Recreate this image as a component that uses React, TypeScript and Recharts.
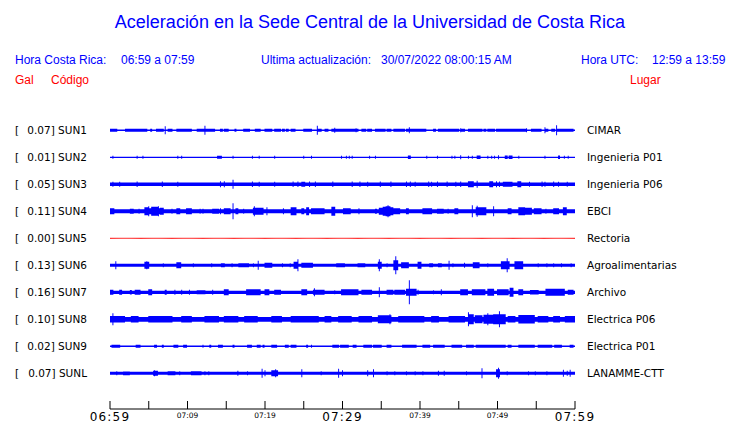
import React from "react";
import { ComposedChart, Area, Line, XAxis, YAxis } from "recharts";

type Burst = [number, number, number];
type Spike = [number, number];

const CODES = ["SUN1", "SUN2", "SUN3", "SUN4", "SUN5", "SUN6", "SUN7", "SUN8", "SUN9", "SUNL"];
const GAL = ["0.07", "0.01", "0.05", "0.11", "0.00", "0.13", "0.16", "0.10", "0.02", "0.07"];
const PLACES = [
  "CIMAR", "Ingenieria P01", "Ingenieria P06", "EBCI", "Rectoria",
  "Agroalimentarias", "Archivo", "Electrica P06", "Electrica P01", "LANAMME-CTT",
];
const BASES = [0.7, 0.6, 1.7, 2, 0, 1.5, 1.6, 2.4, 0.7, 1.5];

const TIME_TICKS = [0, 5, 10, 15, 20, 25, 30, 35, 40, 45, 50, 55, 60];
const LABEL_MINUTES = [0, 10, 20, 30, 40, 50, 60];
const LABEL_TEXTS = ["06:59", "07:09", "07:19", "07:29", "07:39", "07:49", "07:59"];
const MAJOR_MINUTES = [0, 30, 60];

const SUN1_BURSTS: Burst[] = [
  [0, 0.3, 1.5], [0.4, 0.9, 1.5], [2, 4.8, 1.5], [5.2, 5.4, 1.5], [6, 6.9, 1.5], [7.5, 8, 1.5],
  [8.6, 10.5, 1.5], [11.2, 13.5, 1.5], [14.2, 14.6, 1.5], [14.8, 15.3, 1.5], [16.1, 16.3, 1.5],
  [17.2, 18.1, 1.5], [18.7, 19.4, 1.5], [20, 20.9, 1.5], [21.3, 22, 1.5], [22.2, 22.6, 1.5],
  [22.8, 23, 1.5], [23.4, 23.9, 1.5], [25, 26, 1.5], [26.9, 27.3, 1.5], [27.7, 28.2, 1.5],
  [28.6, 32, 1.5], [32.5, 33.1, 1.5], [33.3, 33.8, 1.5], [34.2, 35.5, 1.5], [35.7, 36.3, 1.5],
  [36.6, 38.1, 1.5], [38.3, 40.8, 1.5], [41.7, 42, 1.5], [42.4, 45, 1.5], [45.2, 45.8, 1.5],
  [46.2, 48, 1.5], [48.2, 48.6, 1.5], [48.8, 49.7, 1.5], [49.9, 53.8, 1.5], [54.4, 55.7, 1.5],
  [56.3, 56.5, 1.5], [57, 57.4, 1.5], [57.8, 59.8, 1.5],
];
const SUN1_SPIKES: Spike[] = [
  [7.1, 4], [12.3, 4.5], [26.8, 4.5], [29, 2.5], [31.8, 2], [38.6, 3], [45.3, 2], [53.8, 2],
  [56.1, 3], [57.6, 5],
];

const SUN2_BURSTS: Burst[] = [
  [13.9, 14.4, 1.5], [38.5, 38.8, 1.8], [47.4, 47.8, 1.8], [51, 51.3, 1.8], [51.5, 51.9, 1.8],
  [57.9, 58.1, 1.8],
];
const SUN2_SPIKES: Spike[] = [
  [0.4, 1.5], [3.5, 1.5], [4.2, 1.5], [8.8, 1.5], [9.3, 1.5], [15.9, 1.5], [18.4, 1.5], [19.3, 1.5],
  [21.2, 1.5], [25, 1.5], [26, 1.5], [29.9, 1.5], [30.5, 1.5], [30.9, 1.5], [31.3, 1.5], [33.5, 1.5],
  [34.3, 1.5], [40.9, 1.5], [42.2, 1.5], [44.1, 1.5], [44.5, 1.5], [45.2, 2], [46.2, 1.5],
  [46.7, 1.5], [48.8, 1.5], [49.2, 1.5], [49.6, 1.5], [50.1, 2], [52.7, 1.5], [56.1, 1.5],
  [58.6, 1.5], [59.1, 1.5],
];

const SUN3_BURSTS: Burst[] = [
  [24.7, 25.2, 2.5], [46.2, 46.9, 3], [49, 49.4, 3], [50.8, 51.9, 2.5], [52.6, 53.1, 3],
];
const SUN3_SPIKES: Spike[] = [
  [0.4, 2.5], [1.3, 2.5], [3.5, 2.8], [6.8, 2.8], [8.7, 2.5], [14.2, 3], [14.8, 3], [15.9, 4.5],
  [18.4, 2.8], [19.3, 2.5], [21.2, 2.5], [23.6, 2.8], [24.2, 2.8], [25.7, 2.8], [26.5, 2.8],
  [28.7, 2.8], [31.2, 2.8], [32.2, 2.8], [33.3, 2.5], [34.9, 2.8], [36.2, 2.8], [38.3, 2.8],
  [38.8, 2.8], [39.4, 2.5], [41.1, 2.8], [41.5, 2.5], [42.2, 2.8], [43.5, 2.8], [44.6, 2.5],
  [45.2, 2.8], [47.4, 3.5], [49.9, 3], [50.3, 2.8], [54.1, 2.5], [55.7, 2.8], [56.1, 2.5],
  [57.2, 2.8], [57.9, 2.5], [59, 2.5],
];

const SUN4_BURSTS: Burst[] = [
  [0, 0.6, 3], [2.6, 3, 2.5], [4.5, 5, 4], [5, 5.4, 3], [5.4, 6.2, 4.5], [6.2, 6.5, 3],
  [6.5, 6.9, 3.5], [8.6, 9, 3], [9.9, 10.5, 3], [13.3, 14, 2.5], [14.8, 15.5, 3], [16.3, 16.6, 3],
  [18.5, 19.8, 3.5], [23.4, 24.1, 4], [24.7, 25.1, 3], [25.4, 25.7, 4], [26, 27.7, 3],
  [28.6, 29, 4.5], [30.1, 31, 3], [34.2, 34.4, 2.5], [34.8, 35.3, 3.5], [35.3, 35.6, 4.5],
  [35.6, 36.2, 5], [36.2, 36.6, 4], [36.6, 37.4, 3], [38.3, 38.5, 3], [40.4, 41.5, 3],
  [42.2, 43, 2.5], [44.5, 44.9, 3], [47.3, 48.6, 4], [51.4, 51.8, 3], [52.7, 53.5, 4],
  [53.5, 54.4, 3.5], [54.8, 55.7, 3], [57.2, 57.9, 3], [58.5, 58.9, 4],
];
const SUN4_SPIKES: Spike[] = [
  [3.7, 2.5], [5, 5], [6.2, 5], [8, 2.5], [11.6, 2.5], [12, 2.5], [14.2, 3], [15.9, 8], [17.2, 2.5],
  [18.6, 5], [20.3, 4], [22.4, 3], [32.1, 3], [35.9, 6], [43.6, 2.5], [46.7, 6], [47.4, 5.5],
  [49.5, 5], [56.3, 2.5],
];

const SUN5_BURSTS: Burst[] = [];
const SUN5_SPIKES: Spike[] = [];

const SUN6_BURSTS: Burst[] = [
  [4.5, 5, 3.5], [8.6, 9.2, 3], [14.4, 14.8, 2], [16.6, 17.9, 2], [20, 20.9, 2.5], [23.7, 24.3, 3.5],
  [24.7, 26.2, 2.5], [29.2, 30.3, 2], [32, 32.9, 2], [34.6, 35.1, 3.5], [36.6, 37.2, 5],
  [37.6, 38.5, 3], [39.8, 40.2, 3.5], [41.3, 41.7, 2], [42.4, 42.8, 2], [46.9, 47.7, 3],
  [50.5, 51.6, 4], [52.3, 53.3, 4],
];
const SUN6_SPIKES: Spike[] = [
  [0.7, 4], [4.7, 4], [6.9, 2], [10.8, 2], [13.1, 2], [15.7, 2], [18.5, 2], [19.1, 4.5], [22.2, 2],
  [23.2, 2], [24.2, 6], [34.8, 6], [35.7, 2], [36.9, 9], [43.7, 4.5], [44.3, 2], [45.7, 2.5],
  [48.8, 2], [51.2, 7], [55.3, 2], [56.4, 2], [57.2, 2], [58.3, 2], [59.5, 2],
];

const SUN7_BURSTS: Burst[] = [
  [0, 0.4, 2.5], [1.3, 1.5, 2.5], [2.6, 2.8, 2.2], [3.2, 3.9, 2.5], [5, 5.4, 3], [7.1, 7.3, 2.5],
  [11.2, 12.3, 2], [14.8, 15.3, 3], [17.6, 19.4, 3], [20, 20.6, 3], [21.3, 22, 2.5],
  [24.7, 25.4, 3], [26.2, 27.7, 2.5], [29.9, 32, 3], [32.5, 33.8, 2.5], [35.7, 36.6, 2.5],
  [36.8, 38.1, 2.5], [38.3, 39.6, 3.5], [45.2, 46.2, 3], [46.7, 48.4, 3], [48.8, 49.5, 3.5],
  [50, 51.4, 3], [51.6, 52, 4.5], [52.7, 53.3, 3], [54.2, 55.3, 2.2], [56.3, 58.7, 3.5],
  [59.1, 59.8, 2.5],
];
const SUN7_SPIKES: Spike[] = [
  [8.4, 2.5], [9.3, 2.5], [10.3, 2.5], [13.3, 2.5], [26.4, 4], [29, 2], [34.8, 5], [38.6, 12],
  [39.8, 2.5], [41.7, 2], [42.8, 3],
];

const SUN8_BURSTS: Burst[] = [
  [0, 1.9, 3.2], [2.8, 3.7, 3.2], [5, 8, 3.2], [9.3, 10.5, 3.2], [12.3, 14, 3.2], [14.8, 16.6, 3.2],
  [17.4, 19.1, 3.2], [20.9, 22.2, 3.2], [23.4, 26.9, 3.2], [27.7, 28.6, 3.2], [29.5, 31.2, 3.2],
  [32.1, 33.8, 3.2], [34.6, 36.3, 4], [37.2, 40.6, 3.2], [41.5, 42.4, 3.2], [43.7, 45.8, 3.2],
  [46.3, 46.9, 5], [47.1, 48, 4], [48.2, 49.5, 4.5], [49.5, 51, 5], [51.4, 52.3, 3.2],
  [52.7, 54.8, 4.2], [55.3, 56.6, 3.2], [57.2, 58, 3.2], [58.8, 60, 3.2],
];
const SUN8_SPIKES: Spike[] = [
  [0.4, 6], [36.1, 5], [46.3, 7], [48.8, 6], [50.2, 8],
];

const SUN9_BURSTS: Burst[] = [
  [0.2, 1.3, 1.5], [3.4, 3.9, 1.5], [5.8, 6, 1.5], [6.7, 6.9, 1.5], [8.2, 8.8, 1.5], [9.5, 9.9, 1.5],
  [12, 12.1, 1.5], [12.9, 13.1, 1.5], [14, 14.6, 1.5], [15.9, 16, 1.5], [17.8, 18.3, 1.5],
  [19, 19.4, 1.5], [19.8, 19.9, 1.5], [20.9, 21.5, 1.5], [22.6, 23, 1.5], [23.4, 24.1, 1.5],
  [25.4, 25.5, 1.5], [26, 26.1, 1.5], [28.8, 29.5, 1.5], [29.7, 30.8, 1.5], [31.4, 31.8, 1.5],
  [32.7, 33.8, 1.5], [34, 35.1, 1.5], [35.7, 36.3, 1.5], [37.8, 39.6, 1.5], [40.4, 41.3, 1.5],
  [41.7, 43.2, 1.5], [44.1, 45.4, 1.5], [46, 46.9, 1.5], [47.3, 51, 1.5], [51.4, 51.8, 1.5],
  [52.7, 54.8, 1.5], [55.3, 57, 1.5], [57.4, 58.3, 1.5], [59.4, 59.8, 1.5],
];
const SUN9_SPIKES: Spike[] = [];

const SUNL_BURSTS: Burst[] = [
  [1.7, 2.6, 1.9], [5.6, 6.2, 2.5], [7.5, 8.4, 2], [10.5, 11.8, 2], [20.9, 21.7, 3], [49.9, 50.3, 4],
];
const SUNL_SPIKES: Spike[] = [
  [0.9, 2], [5.8, 3], [9, 2], [12.3, 2], [12.7, 2], [16.5, 2.5], [17.8, 2], [19.6, 4.5], [20, 3],
  [21.4, 4], [24.7, 4], [27.3, 2], [29.5, 4.5], [30, 3], [33.3, 3], [34, 4], [35.7, 2], [36.8, 2],
  [38.3, 2], [39.4, 2], [40.4, 2], [42.4, 2.5], [43.1, 2.5], [46, 2], [48, 5], [50.1, 5.5],
  [51.2, 2], [54, 2], [54.9, 2], [56.4, 2], [58.5, 3.5], [59, 2.5], [59.4, 3.5],
];

const ALL_BURSTS = [SUN1_BURSTS, SUN2_BURSTS, SUN3_BURSTS, SUN4_BURSTS, SUN5_BURSTS,
  SUN6_BURSTS, SUN7_BURSTS, SUN8_BURSTS, SUN9_BURSTS, SUNL_BURSTS];
const ALL_SPIKES = [SUN1_SPIKES, SUN2_SPIKES, SUN3_SPIKES, SUN4_SPIKES, SUN5_SPIKES,
  SUN6_SPIKES, SUN7_SPIKES, SUN8_SPIKES, SUN9_SPIKES, SUNL_SPIKES];

// trace spacing in y-units (one row per station)
const ROW = 27;
const Y_MAX = 292.2;
const CENTERS = CODES.map((_, i) => ROW / 2 + ROW * i);

const STEPS_PER_MIN = 8;
function ampAt(i: number, t: number): number {
  let a = BASES[i];
  const half = 0.5 / STEPS_PER_MIN;
  for (const [s, e, h] of ALL_BURSTS[i]) if (t >= s - half && t <= e + 1e-6) a = Math.max(a, h);
  for (const [ts, h] of ALL_SPIKES[i]) if (Math.abs(t - ts) < half - 1e-6) a = Math.max(a, h);
  return a;
}

const DATA = Array.from({ length: 60 * STEPS_PER_MIN + 1 }, (_, k) => {
  const t = k / STEPS_PER_MIN;
  const row: Record<string, number> = { t };
  CODES.forEach((_, i) => { row["a" + i] = ampAt(i, t); });
  return row;
});

const BLUE = "#0000ff";
const RED = "#ff0000";

const TimeTick = (props: any) => {
  const { x, y, payload } = props;
  const v = payload.value;
  const li = LABEL_MINUTES.indexOf(v);
  const major = MAJOR_MINUTES.includes(v);
  return (
    <g>
      <line x1={x} x2={x} y1={y} y2={y - 8} stroke="#000" strokeWidth={1} />
      {li >= 0 && (
        <text
          x={x}
          y={y + (major ? 12 : 9)}
          textAnchor="middle"
          fontFamily="DejaVu Sans"
          fontSize={major ? 12 : 7.5}
          letterSpacing={major ? 1.2 : 0}
          fill="#000"
        >
          {LABEL_TEXTS[li]}
        </text>
      )}
    </g>
  );
};

const LeftTick = (props: any) => {
  const { y, payload } = props;
  const i = CENTERS.indexOf(payload.value);
  if (i < 0) return null;
  return (
    <g fontFamily="DejaVu Sans" fontSize={10.5} fill="#000">
      <text x={15} y={y} dy={4}>[</text>
      <text x={87} y={y} dy={4} textAnchor="end">{`${GAL[i]}] ${CODES[i]}`}</text>
    </g>
  );
};

const RightTick = (props: any) => {
  const { y, payload } = props;
  const i = CENTERS.indexOf(payload.value);
  if (i < 0) return null;
  return (
    <text x={587} y={y} dy={4} fontFamily="DejaVu Sans" fontSize={10.5} fill="#000">
      {PLACES[i]}
    </text>
  );
};

const txt: React.CSSProperties = {
  position: "absolute",
  fontFamily: "'Liberation Sans', Arial, sans-serif",
  fontSize: 12,
  lineHeight: "12px",
  whiteSpace: "pre",
  color: BLUE,
};

export default function App() {
  return (
    <div style={{ position: "absolute", left: 0, top: 0, width: 740, height: 423, background: "#fff" }}>
      <div style={{ ...txt, left: 0, width: 740, top: 13, fontSize: 18, lineHeight: "18px", textAlign: "center" }}>
        Aceleración en la Sede Central de la Universidad de Costa Rica
      </div>
      <div style={{ ...txt, left: 15, top: 54 }}>Hora Costa Rica:</div>
      <div style={{ ...txt, left: 121, top: 54 }}>06:59 a 07:59</div>
      <div style={{ ...txt, left: 261, top: 54 }}>Ultima actualización:</div>
      <div style={{ ...txt, left: 381, top: 54 }}>30/07/2022 08:00:15 AM</div>
      <div style={{ ...txt, left: 581, top: 54 }}>Hora UTC:</div>
      <div style={{ ...txt, left: 652, top: 54 }}>12:59 a 13:59</div>
      <div style={{ ...txt, left: 15, top: 74, color: RED }}>Gal</div>
      <div style={{ ...txt, left: 51, top: 74, color: RED }}>Código</div>
      <div style={{ ...txt, left: 630, top: 74, color: RED }}>Lugar</div>

      <div style={{ position: "absolute", left: 0, top: 0 }}>
        <ComposedChart
          width={740}
          height={423}
          data={DATA}
          margin={{ top: 116.8, right: 0, bottom: 0, left: 0 }}
        >
          <XAxis
            dataKey="t"
            type="number"
            domain={[0, 60]}
            ticks={TIME_TICKS}
            interval={0}
            tickSize={0}
            tickMargin={0}
            tickLine={false}
            axisLine={{ stroke: "#000" }}
            height={14}
            tick={TimeTick}
          />
          <YAxis
            yAxisId="left"
            type="number"
            domain={[0, Y_MAX]}
            reversed
            allowDataOverflow
            ticks={CENTERS}
            interval={0}
            width={110}
            axisLine={false}
            tickLine={false}
            tick={LeftTick}
          />
          <YAxis
            yAxisId="right"
            orientation="right"
            type="number"
            domain={[0, Y_MAX]}
            reversed
            allowDataOverflow
            ticks={CENTERS}
            interval={0}
            width={165}
            axisLine={false}
            tickLine={false}
            tick={RightTick}
          />
          {CODES.map((c, i) =>
            i === 4 ? (
              <Line
                key={c}
                yAxisId="right"
                dataKey={(d: any) => CENTERS[i] + d["a" + i]}
                stroke={RED}
                strokeWidth={1}
                dot={false}
                activeDot={false}
                isAnimationActive={false}
              />
            ) : (
              <Area
                key={c}
                yAxisId="left"
                type="step"
                dataKey={(d: any) => [CENTERS[i] - d["a" + i], CENTERS[i] + d["a" + i]]}
                stroke="none"
                fill={BLUE}
                fillOpacity={1}
                dot={false}
                activeDot={false}
                isAnimationActive={false}
              />
            )
          )}
        </ComposedChart>
      </div>
    </div>
  );
}
